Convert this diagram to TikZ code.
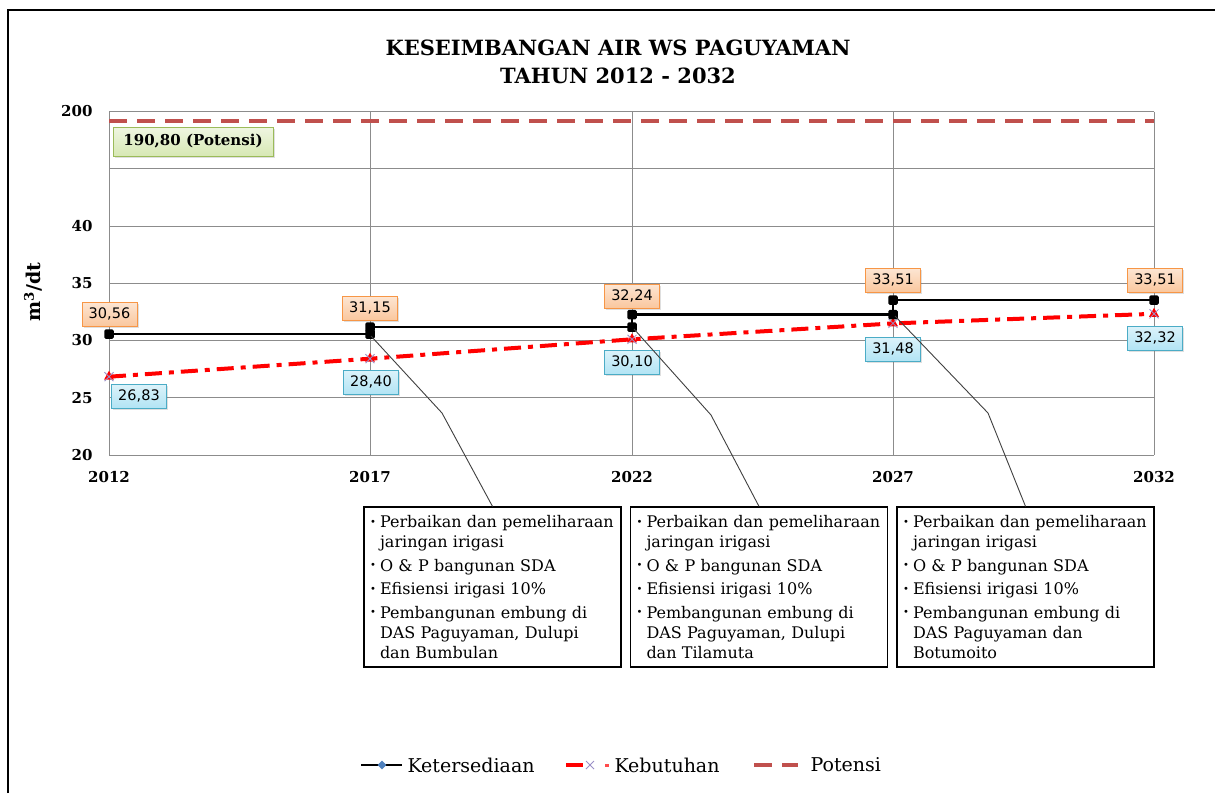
\documentclass[tikz,border=0pt]{standalone}
\usepackage{fontspec}
\setmainfont{DejaVu Serif}
\newfontfamily\lblfont{DejaVu Sans}
\usetikzlibrary{shadows,calc,shapes.geometric}

\definecolor{gridgray}{HTML}{8C8C8C}
\definecolor{potred}{HTML}{C0504D}
\definecolor{orgfill}{HTML}{FAC79E}
\definecolor{orgdraw}{HTML}{F79646}
\definecolor{bluefill}{HTML}{B2E4F4}
\definecolor{bluedraw}{HTML}{4BACC6}
\definecolor{grnfill}{HTML}{D7E8B4}
\definecolor{grndraw}{HTML}{9BBB59}
\definecolor{xpurple}{HTML}{9B8FC7}
\definecolor{diablue}{HTML}{4F81BD}
\definecolor{callgray}{HTML}{404040}

% bullet and hanging indent for the program lists
\newcommand\bul{\makebox[13pt][l]{\hspace{3pt}\raisebox{2.5pt}{\fontsize{10}{10}\selectfont\textbullet}}}
\newcommand\ind{\hspace*{13pt}}

\tikzset{
  gridline/.style={gridgray, line width=1},
  avail/.style={line width=2.5, black},
  demand/.style={line width=4, red, dash pattern=on 17pt off 7pt on 5pt off 7pt},
  potensi/.style={line width=3.5, potred, dash pattern=on 18pt off 10pt},
  sqmark/.style={fill=black, rounded corners=1.5pt, minimum size=9.5pt, inner sep=0pt},
  vlabel/.style={font=\lblfont\fontsize{14.5}{16}\selectfont, minimum width=55pt,
    minimum height=24pt, inner sep=0pt, line width=1,
    drop shadow={shadow xshift=1.5pt, shadow yshift=-1.5pt, opacity=0.25}},
  availlabel/.style={vlabel, draw=orgdraw, top color=orgfill!45, bottom color=orgfill},
  demandlabel/.style={vlabel, draw=bluedraw, top color=bluefill!45, bottom color=bluefill},
  ytick/.style={anchor=east, font=\bfseries\fontsize{15}{16}\selectfont},
  xtick/.style={font=\bfseries\fontsize{15}{16}\selectfont},
  notebox/.style={draw=black, line width=1.2, minimum width=257pt, minimum height=160pt,
    text width=251pt, align=left, inner sep=0pt, font=\fontsize{16}{20}\selectfont},
  callout/.style={callgray, line width=0.9},
  legendtext/.style={anchor=west, font=\fontsize{19}{21}\selectfont}
}

\begin{document}
\begin{tikzpicture}[x=1pt,y=-1pt]
\useasboundingbox (0,0) rectangle (1215,793);
\fill[white] (0,0) rectangle (1215,793);

% outer frame
\draw[black, line width=1.5] (8,793) -- (8,10) -- (1215,10);

% title
\node[font=\bfseries\fontsize{21}{24}\selectfont] (title1) at (618,48) {KESEIMBANGAN AIR WS PAGUYAMAN};
\node[font=\bfseries\fontsize{21}{24}\selectfont] (title2) at (618,76) {TAHUN 2012 - 2032};

% grid
\foreach \y in {111.5,168.75,226,283.25,340.5,397.75,455}
  \draw[gridline] (109,\y) -- (1154,\y);
\foreach \x in {109,370,632,893,1154}
  \draw[gridline] (\x,111.5) -- (\x,455);

% y ticks
\node[ytick] (t200) at (96,111.5) {200};
\node[ytick] (t40) at (96,226) {40};
\node[ytick] (t35) at (96,283.25) {35};
\node[ytick] (t30) at (96,340.5) {30};
\node[ytick] (t25) at (96,397.75) {25};
\node[ytick] (t20) at (96,455) {20};

% x ticks
\node[xtick] (y2012) at (109,477) {2012};
\node[xtick] (y2017) at (370,477) {2017};
\node[xtick] (y2022) at (632,477) {2022};
\node[xtick] (y2027) at (893,477) {2027};
\node[xtick] (y2032) at (1154,477) {2032};

% axis title
\node[rotate=90, font=\bfseries\fontsize{19}{21}\selectfont] (ylab) at (33,292) {m\textsuperscript{3}/dt};

% potential line
\draw[potensi] (109,121) -- (1154,121);
\node[font=\bfseries\fontsize{15}{17}\selectfont, draw=grndraw, line width=1,
  top color=grnfill!40, bottom color=grnfill, minimum width=160pt, minimum height=29pt,
  inner sep=0pt, drop shadow={shadow xshift=1.5pt, shadow yshift=-1.5pt, opacity=0.25}]
  (potlabel) at (193,141.5) {190,80 (Potensi)};

% availability (step line)
\coordinate (a12) at (109,334.0);
\coordinate (a17l) at (370,334.0);
\coordinate (a17) at (370,327.2);
\coordinate (a22l) at (632,327.2);
\coordinate (a22) at (632,314.7);
\coordinate (a27l) at (893,314.7);
\coordinate (a27) at (893,300.2);
\coordinate (a32) at (1154,300.2);
\draw[avail] (a12) -- (a17l) -- (a17) -- (a22l) -- (a22) -- (a27l) -- (a27) -- (a32);

% demand line
\coordinate (d12) at (109,376.7);
\coordinate (d17) at (370,358.7);
\coordinate (d22) at (632,339.3);
\coordinate (d27) at (893,323.4);
\coordinate (d32) at (1154,313.8);
\draw[demand] (d12) -- (d17) -- (d22) -- (d27) -- (d32);
\foreach \p in {d12,d17,d22,d27,d32}{
  \fill[red] ($(\p)+(0,-6)$) -- ($(\p)+(5,3)$) -- ($(\p)+(-5,3)$) -- cycle;
  \draw[xpurple, line width=0.8] ($(\p)+(-4.5,-4.5)$) -- ($(\p)+(4.5,4.5)$)
    ($(\p)+(-4.5,4.5)$) -- ($(\p)+(4.5,-4.5)$);
}

% availability markers
\foreach \p in {a12,a17l,a17,a22l,a22,a27l,a27,a32}
  \node[sqmark] at (\p) {};

% value labels
\node[availlabel] (la12) at (109.5,314) {30,56};
\node[availlabel] (la17) at (370,308) {31,15};
\node[availlabel] (la22) at (632,296) {32,24};
\node[availlabel] (la27) at (893,280) {33,51};
\node[availlabel] (la32) at (1155,280) {33,51};
\node[demandlabel] (ld12) at (139,396) {26,83};
\node[demandlabel] (ld17) at (371,382) {28,40};
\node[demandlabel] (ld22) at (632,362) {30,10};
\node[demandlabel] (ld27) at (893,349) {31,48};
\node[demandlabel] (ld32) at (1155,338) {32,32};

% program boxes
\node[notebox] (box1) at (492.5,587) {%
\bul Perbaikan dan pemeliharaan\\\ind jaringan irigasi\\[3.5pt]%
\bul O \& P bangunan SDA\\[3.5pt]%
\bul Efisiensi irigasi 10\%\\[3.5pt]%
\bul Pembangunan embung di\\\ind DAS Paguyaman, Dulupi\\\ind dan Bumbulan};
\node[notebox] (box2) at (759,587) {%
\bul Perbaikan dan pemeliharaan\\\ind jaringan irigasi\\[3.5pt]%
\bul O \& P bangunan SDA\\[3.5pt]%
\bul Efisiensi irigasi 10\%\\[3.5pt]%
\bul Pembangunan embung di\\\ind DAS Paguyaman, Dulupi\\\ind dan Tilamuta};
\node[notebox] (box3) at (1025.5,587) {%
\bul Perbaikan dan pemeliharaan\\\ind jaringan irigasi\\[3.5pt]%
\bul O \& P bangunan SDA\\[3.5pt]%
\bul Efisiensi irigasi 10\%\\[3.5pt]%
\bul Pembangunan embung di\\\ind DAS Paguyaman dan\\\ind Botumoito};

% callout lines
\coordinate (c1) at (371,336);
\coordinate (k1) at (442,413);
\coordinate (c2) at (634,329);
\coordinate (k2) at (711,415);
\coordinate (c3) at (895,316);
\coordinate (k3) at (988,413);
\draw[callout] (c1) -- (k1) -- (box1.north);
\draw[callout] (c2) -- (k2) -- (box2.north);
\draw[callout] (c3) -- (k3) -- (box3.north);

% legend
\coordinate (lg1a) at (361,765);
\coordinate (lg1b) at (402,765);
\draw[avail] (lg1a) -- (lg1b);
\node[diamond, fill=diablue, inner sep=0pt, minimum size=9pt] (lgdia) at (382,765) {};
\node[legendtext] (lgt1) at (404,765) {Ketersediaan};

\coordinate (lg2a) at (566,765);
\coordinate (lg2b) at (583,765);
\draw[line width=4, red] (lg2a) -- (lg2b);
\draw[xpurple, line width=0.8] (586,761) -- (594,769) (586,769) -- (594,761);
\fill[red!70] (605,763.5) rectangle (609,766.5);
\node[legendtext] (lgt2) at (611,765) {Kebutuhan};

\coordinate (lg3a) at (754,765);
\coordinate (lg3b) at (798,765);
\draw[potensi] (lg3a) -- (lg3b);
\node[legendtext] (lgt3) at (807,765) {Potensi};
\end{tikzpicture}
\end{document}
